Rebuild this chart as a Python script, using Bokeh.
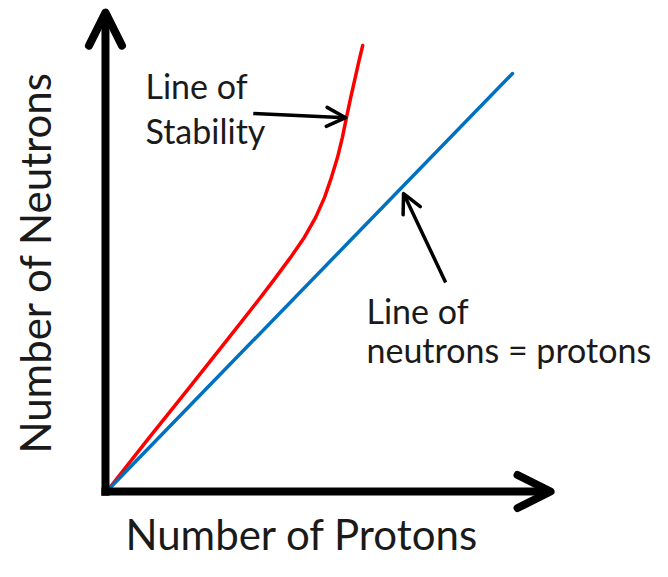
from bokeh.plotting import figure
from bokeh.models import Range1d, Arrow, OpenHead
from bokeh.core.properties import value
from bokeh.embed import file_html
from bokeh.resources import INLINE

# ---- data (arbitrary units: protons on x, neutrons on y) ----
stability_protons = [0.0, 9.9, 19.8, 29.6, 37.8, 41.0, 45.2, 48.6, 51.4, 53.6,
                     55.3, 56.8, 58.0, 59.0, 60.0, 61.0, 62.0, 63.0]
stability_neutrons = [0.0, 12.2, 24.2, 36.2, 46.3, 50.4, 55.9, 60.7, 65.5, 70.3,
                      75.1, 79.9, 84.7, 89.4, 94.0, 98.3, 102.6, 106.7]
equal_protons = [0, 100]
equal_neutrons = [0, 100]

x_title = "Number of Protons"
y_title = "Number of Neutrons"
stability_label = ["Line of", "Stability"]
equal_label = ["Line of", "neutrons = protons"]

# ---- layout ----
W, H = 652, 561
FONT = "Lato"
p = figure(width=W, height=H, output_backend="svg", toolbar_location=None,
           x_range=Range1d(-26.42, 134.57), y_range=Range1d(-17.03, 117.51),
           min_border=0, x_axis_type=None, y_axis_type=None)
p.grid.visible = False
p.outline_line_color = None
p.background_fill_color = "white"
p.border_fill_color = "white"

# curves
p.line(stability_protons, stability_neutrons, line_color="#FF0000", line_width=3.5,
       line_join="round", line_cap="round")
p.line(equal_protons, equal_neutrons, line_color="#0070C0", line_width=3.5,
       line_cap="round")

# axes as thick arrows
AX, AY = -0.5, -0.25
X_TIP, Y_TIP = 109.4, 114.6
def axis_head():
    return OpenHead(size=33, line_width=8, line_color="black",
                    line_join="round", line_cap="round")
p.add_layout(Arrow(end=axis_head(), x_start=AX, y_start=AY - 1.0, x_end=AX, y_end=Y_TIP,
                   line_width=8, line_color="black"))
p.add_layout(Arrow(end=axis_head(), x_start=AX - 1.0, y_start=AY, x_end=X_TIP, y_end=AY,
                   line_width=8, line_color="black"))

# annotation arrows
def small_head():
    return OpenHead(size=19, line_width=3.5, line_color="black",
                    line_join="round", line_cap="round")
p.add_layout(Arrow(end=small_head(), x_start=36.0, y_start=90.4, x_end=58.8, y_end=89.4,
                   line_width=3.5, line_color="black"))
p.add_layout(Arrow(end=small_head(), x_start=83.5, y_start=49.9, x_end=73.1, y_end=71.2,
                   line_width=3.5, line_color="black"))

# texts
def lab(text, x, y, size, angle=0.0):
    p.text(x=[x], y=[y], text=[text], text_font=value(FONT), text_font_size=size,
           text_color="#1a1a1a", text_align="left", text_baseline="alphabetic",
           angle=angle)

lab(stability_label[0], 9.38, 97.1, "34px")
lab(stability_label[1], 9.38, 86.3, "34px")
lab(equal_label[0], 63.95, 43.1, "34px")
lab(equal_label[1], 63.95, 33.8, "34px")
lab(x_title, 4.44, -10.5, "42px")
lab(y_title, -18.02, 8.87, "42px", angle=1.5708)

open("out.html", "w").write(file_html(p, INLINE))
